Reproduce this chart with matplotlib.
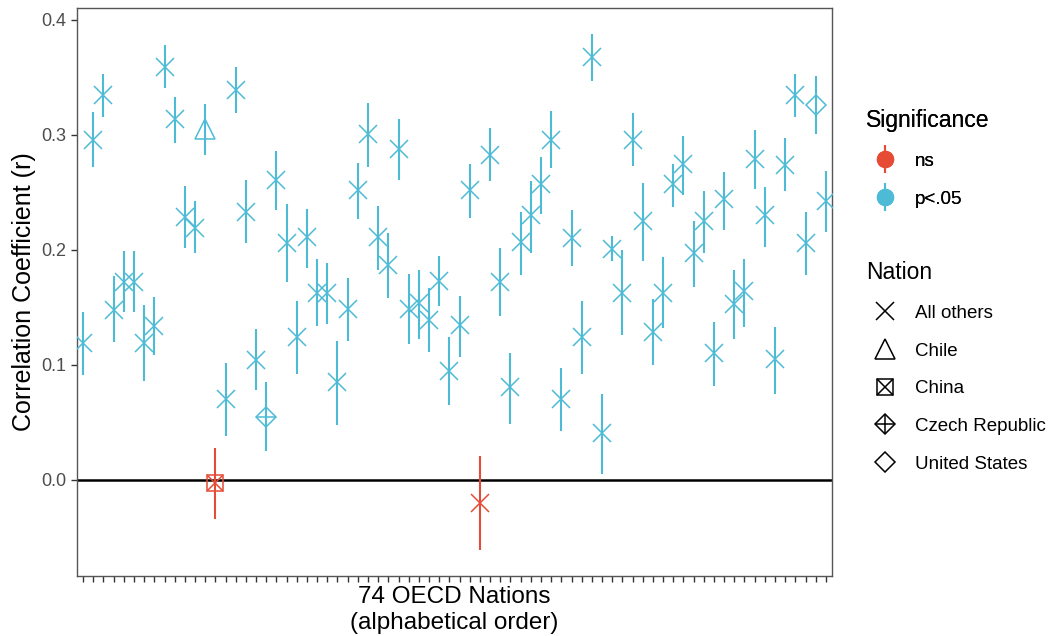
import matplotlib
matplotlib.use("Agg")
import matplotlib.pyplot as plt
from matplotlib.lines import Line2D
from matplotlib.legend_handler import HandlerTuple

plt.rcParams['font.family'] = ['Liberation Sans', 'DejaVu Sans']

# ---- data ----
r_values = [0.119, 0.296, 0.335, 0.148, 0.172, 0.172, 0.119, 0.134, 0.359, 0.314,
            0.229, 0.219, 0.305, -0.003, 0.070, 0.339, 0.233, 0.104, 0.055, 0.261,
            0.206, 0.124, 0.211, 0.163, 0.163, 0.085, 0.149, 0.252, 0.301, 0.211,
            0.187, 0.288, 0.149, 0.154, 0.139, 0.173, 0.095, 0.135, 0.252, -0.020,
            0.283, 0.172, 0.081, 0.207, 0.230, 0.257, 0.296, 0.070, 0.210, 0.124,
            0.368, 0.041, 0.201, 0.163, 0.296, 0.225, 0.129, 0.163, 0.257, 0.275,
            0.197, 0.225, 0.110, 0.244, 0.153, 0.164, 0.279, 0.230, 0.105, 0.274,
            0.335, 0.206, 0.326, 0.243]
ci_lower = [0.091, 0.272, 0.316, 0.120, 0.146, 0.146, 0.086, 0.109, 0.341, 0.293,
            0.202, 0.197, 0.283, -0.034, 0.038, 0.319, 0.206, 0.078, 0.025, 0.235,
            0.172, 0.092, 0.184, 0.134, 0.136, 0.048, 0.121, 0.227, 0.272, 0.183,
            0.158, 0.261, 0.118, 0.123, 0.111, 0.151, 0.065, 0.107, 0.228, -0.061,
            0.260, 0.143, 0.049, 0.178, 0.197, 0.231, 0.271, 0.043, 0.186, 0.092,
            0.347, 0.005, 0.190, 0.126, 0.273, 0.190, 0.100, 0.132, 0.237, 0.248,
            0.168, 0.197, 0.082, 0.217, 0.123, 0.133, 0.253, 0.203, 0.075, 0.251,
            0.316, 0.178, 0.301, 0.216]
ci_upper = [0.146, 0.320, 0.353, 0.177, 0.199, 0.199, 0.152, 0.159, 0.378, 0.333,
            0.256, 0.243, 0.327, 0.028, 0.102, 0.359, 0.261, 0.131, 0.085, 0.286,
            0.240, 0.156, 0.236, 0.192, 0.189, 0.121, 0.176, 0.276, 0.328, 0.238,
            0.215, 0.314, 0.179, 0.183, 0.167, 0.195, 0.124, 0.160, 0.275, 0.021,
            0.306, 0.202, 0.110, 0.233, 0.260, 0.281, 0.321, 0.097, 0.235, 0.156,
            0.388, 0.075, 0.212, 0.200, 0.319, 0.258, 0.157, 0.194, 0.275, 0.299,
            0.225, 0.251, 0.137, 0.268, 0.183, 0.192, 0.304, 0.255, 0.133, 0.297,
            0.353, 0.233, 0.351, 0.269]
# positions (1-based) of the highlighted nations and of non-significant results
named_nations = {13: 'Chile', 14: 'China', 19: 'Czech Republic', 73: 'United States'}
ns_positions = [14, 40]

nation_levels = ['All others', 'Chile', 'China', 'Czech Republic', 'United States']
sig_levels = ['ns', 'p<.05']
sig_colors = {'ns': '#E64B35', 'p<.05': '#4DBBD5'}

n = len(r_values)
xpos = list(range(1, n + 1))
nation = [named_nations.get(i, 'All others') for i in xpos]
sig = ['ns' if i in ns_positions else 'p<.05' for i in xpos]

# marker specs: list of (marker, size) overlays
shape_spec = {
    'All others': [('x', 12.5)],
    'Chile': [('^', 14.5)],
    'China': [('s', 11.5), ('x', 11.5)],
    'Czech Republic': [('D', 10.5), ('+', 15)],
    'United States': [('D', 10.5)],
}

fig = plt.figure(figsize=(10.48, 6.36), dpi=100)
ax = fig.add_axes([77 / 1048, 1 - 576 / 636, (832 - 77) / 1048, (576 - 8) / 636])

ax.axhline(0, color='black', lw=1.8, zorder=1)

for i in range(n):
    c = sig_colors[sig[i]]
    ax.vlines(xpos[i], ci_lower[i], ci_upper[i], color=c, lw=1.5, zorder=2)
    for mk, ms in shape_spec[nation[i]]:
        ax.plot([xpos[i]], [r_values[i]], linestyle='none', marker=mk, ms=ms,
                mfc='none', mec=c, mew=1.1, zorder=3)

ax.set_xlim(0.4, n + 0.6)
ax.set_ylim(-0.0835, 0.4104)
ax.set_xticks(xpos)
ax.set_xticklabels([])
ax.set_yticks([0.0, 0.1, 0.2, 0.3, 0.4])
ax.set_yticklabels(['0.0', '0.1', '0.2', '0.3', '0.4'])
ax.tick_params(axis='both', length=4, width=1.0, color='#333333',
               labelcolor='#4D4D4D', labelsize=13)
for sp in ax.spines.values():
    sp.set_color('#555555')
    sp.set_linewidth(1.0)

ax.set_ylabel('Correlation Coefficient (r)', fontsize=18, labelpad=4)
ax.set_xlabel('74 OECD Nations\n(alphabetical order)', fontsize=17.5,
              linespacing=1.22)
ax.xaxis.set_label_coords(0.5, -0.018)

# ---- legends ----
sig_handles = []
for lvl in sig_levels:
    bar = Line2D([], [], linestyle='none', marker='|', ms=20, mew=1.5, color=sig_colors[lvl])
    dot = Line2D([], [], linestyle='none', marker='o', ms=11.5, color=sig_colors[lvl])
    sig_handles.append((bar, dot))

leg_kw = dict(loc='upper left', frameon=False, fontsize=13.5, title_fontsize=16.5,
              alignment='left', handlelength=2.0, handletextpad=0.6, labelspacing=1.1,
              borderpad=0, borderaxespad=0, handler_map={tuple: HandlerTuple(ndivide=1)})

leg1 = fig.legend(sig_handles, sig_levels, title='Significance',
                  bbox_to_anchor=(866 / 1048, 1 - 109 / 636), **leg_kw)
fig.add_artist(leg1)

nat_handles = []
for lvl in nation_levels:
    parts = tuple(Line2D([], [], linestyle='none', marker=mk, ms=ms, mfc='none',
                         mec='black', mew=1.1) for mk, ms in shape_spec[lvl])
    nat_handles.append(parts)

leg2 = fig.legend(nat_handles, nation_levels, title='Nation',
                  bbox_to_anchor=(866 / 1048, 1 - 261 / 636), **leg_kw)

fig.savefig('out.png', dpi=100)
